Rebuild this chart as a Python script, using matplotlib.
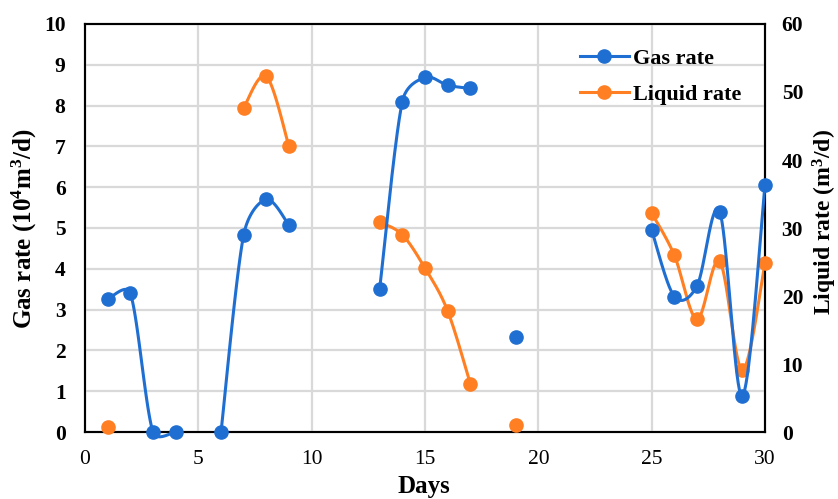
import numpy as np
import matplotlib
matplotlib.use("Agg")
import matplotlib.pyplot as plt
from matplotlib.lines import Line2D

plt.rcParams['font.family'] = ['Liberation Serif', 'DejaVu Serif']
plt.rcParams['mathtext.fontset'] = 'custom'
plt.rcParams['mathtext.rm'] = 'Liberation Serif:bold'
plt.rcParams['mathtext.it'] = 'Liberation Serif:bold'
plt.rcParams['mathtext.bf'] = 'Liberation Serif:bold'

# ---- data ----
days = list(range(1, 31))
nan = np.nan
gas_rate = [3.26, 3.40, 0.0, 0.0, nan, 0.0, 4.83, 5.70, 5.07, nan,
            nan, nan, 3.51, 8.10, 8.69, 8.50, 8.42, nan, 2.34, nan,
            nan, nan, nan, nan, 4.95, 3.32, 3.58, 5.40, 0.88, 6.05]
liquid_rate = [0.7, nan, nan, nan, nan, nan, 47.7, 52.3, 42.0, nan,
               nan, nan, 30.9, 29.0, 24.1, 17.8, 7.1, nan, 1.0, nan,
               nan, nan, nan, nan, 32.2, 26.0, 16.6, 25.1, 9.1, 24.8]
x_ticks = [0, 5, 10, 15, 20, 25, 30]
gas_ticks = list(range(0, 11))
liquid_ticks = [0, 10, 20, 30, 40, 50, 60]

BLUE = '#1f6fd2'
ORANGE = '#ff7f22'

W, H = 838, 499
AX_L, AX_R, AX_T, AX_B = 85, 765, 24, 432
PX_X = (AX_R - AX_L) / 30.0   # pixels per day
PX_Y = (AX_B - AX_T) / 10.0   # pixels per gas unit


def smooth_segments(x, y, n=40):
    """Excel-like smoothed line (Bezier, limited control arms, in pixel space)."""
    x = np.asarray(x, float)
    y = np.asarray(y, float)
    runs, cur = [], []
    for xi, yi in zip(x, y):
        if np.isnan(yi):
            if cur:
                runs.append(cur)
            cur = []
        else:
            cur.append((xi * PX_X, yi * PX_Y))
    if cur:
        runs.append(cur)
    out = []
    for r in runs:
        P = np.array(r)
        if len(P) < 2:
            continue
        xs, ys = [], []
        m = len(P)
        for i in range(m - 1):
            p0 = P[i - 1] if i > 0 else P[i]
            p1 = P[i]
            p2 = P[i + 1]
            p3 = P[i + 2] if i + 2 < m else P[i + 1]
            seg = np.linalg.norm(p2 - p1)
            t1 = (p2 - p0) / 6.0
            t2 = (p3 - p1) / 6.0
            lim = seg / 2.0
            n1 = np.linalg.norm(t1)
            n2 = np.linalg.norm(t2)
            if n1 > lim and n1 > 0:
                t1 = t1 * lim / n1
            if n2 > lim and n2 > 0:
                t2 = t2 * lim / n2
            c1 = p1 + t1
            c2 = p2 - t2
            t = np.linspace(0, 1, n)[:, None]
            b = ((1 - t) ** 3) * p1 + 3 * ((1 - t) ** 2) * t * c1 + 3 * (1 - t) * t ** 2 * c2 + t ** 3 * p2
            xs.extend(b[:, 0] / PX_X); ys.extend(b[:, 1] / PX_Y)
        out.append((np.array(xs), np.array(ys)))
    return out


fig = plt.figure(figsize=(W / 100, H / 100), dpi=100)
ax = fig.add_axes([AX_L / W, (H - AX_B) / H, (AX_R - AX_L) / W, (AX_B - AX_T) / H])
ax2 = ax.twinx()
ax2.set_zorder(0)
ax.set_zorder(1)
ax.patch.set_visible(False)

ax.set_xlim(0, 30)
ax.set_ylim(0, 10)
ax2.set_ylim(0, 60)

grid_c = '#d9d9d9'
for xv in x_ticks[1:-1]:
    ax.axvline(xv, color=grid_c, lw=1.6, zorder=0)
for yv in gas_ticks[1:-1]:
    ax.axhline(yv, color=grid_c, lw=1.6, zorder=0)

lw = 2.2
ms = 9.5
liq_scaled = np.array(liquid_rate) / 6.0
for sx, sy in smooth_segments(days, liq_scaled):
    ax.plot(sx, sy, color=ORANGE, lw=lw, zorder=2, solid_capstyle='round', clip_on=False)
ax.plot(days, liq_scaled, 'o', color=ORANGE, ms=ms, zorder=3, clip_on=False)
for sx, sy in smooth_segments(days, gas_rate):
    ax.plot(sx, sy, color=BLUE, lw=lw, zorder=4, solid_capstyle='round', clip_on=False)
ax.plot(days, gas_rate, 'o', color=BLUE, ms=ms, zorder=5, clip_on=False)

ax.set_xticks(x_ticks)
ax.set_yticks(gas_ticks)
ax2.set_yticks(liquid_ticks)
fs_tick = 15.5
fs_lab = 18
ax.tick_params(axis='x', length=0, labelsize=fs_tick, pad=13)
ax.tick_params(axis='y', length=0, labelsize=fs_tick, pad=14)
ax2.tick_params(axis='y', length=0, labelsize=fs_tick, pad=12)
for lab in ax.get_yticklabels() + ax2.get_yticklabels():
    lab.set_fontweight('bold')
for lab in ax.get_xticklabels():
    lab.set_fontweight('normal')

for a in (ax, ax2):
    for s in a.spines.values():
        s.set_linewidth(1.5)
        s.set_color('black')

fig.text(424 / W, 1 - 487 / H, 'Days', fontsize=fs_lab, fontweight='bold',
         ha='center', va='center')
fig.text(24 / W, 1 - 229 / H, r'Gas rate (10$^{4}$m$^{3}$/d)', fontsize=fs_lab,
         fontweight='bold', rotation=90, ha='center', va='center')
fig.text(825 / W, 1 - 222 / H, r'Liquid rate (m$^{3}$/d)', fontsize=17,
         fontweight='bold', rotation=90, ha='center', va='center')

handles = [Line2D([], [], color=BLUE, lw=lw, marker='o', ms=ms),
           Line2D([], [], color=ORANGE, lw=lw, marker='o', ms=ms)]
leg = ax.legend(handles, ['Gas rate', 'Liquid rate'], loc='upper right',
                bbox_to_anchor=(0.995, 0.99), frameon=False, fontsize=16,
                handlelength=2.2, handletextpad=0.2, labelspacing=0.7)
for t in leg.get_texts():
    t.set_fontweight('bold')

fig.savefig('out.png', dpi=100)
